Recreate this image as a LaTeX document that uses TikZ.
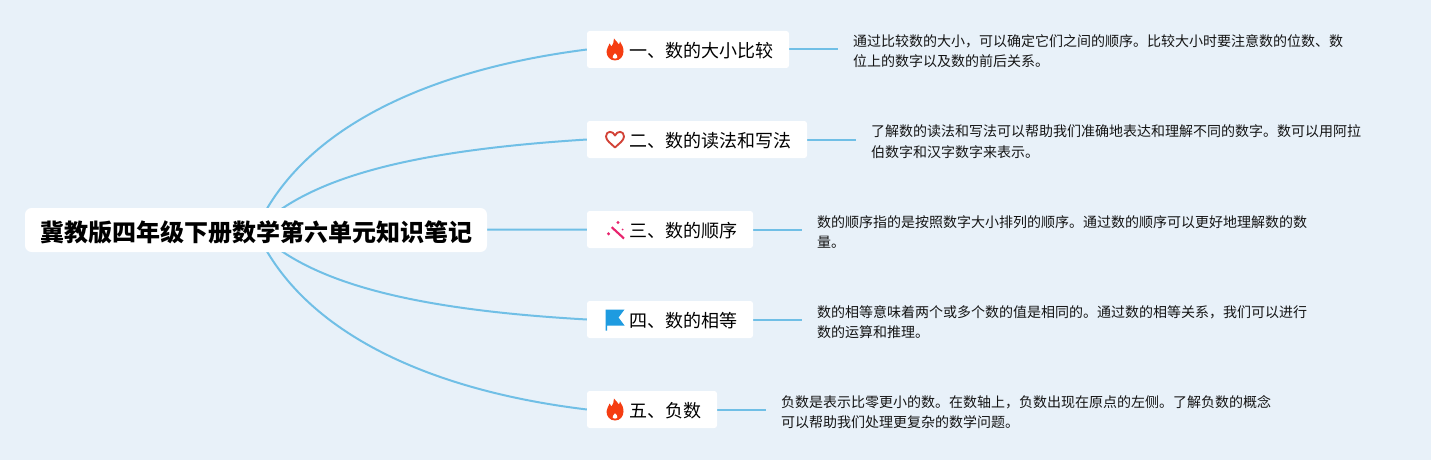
\documentclass[tikz,border=0pt]{standalone}
\usepackage{fontspec}
\setmainfont{Noto Sans CJK SC}
\usetikzlibrary{backgrounds}
\definecolor{mapback}{RGB}{232, 241, 249}
\definecolor{mapline}{RGB}{112, 191, 230}
\definecolor{firered}{RGB}{245, 61, 18}
\definecolor{heartred}{RGB}{210, 66, 55}
\definecolor{wandpink}{RGB}{232, 36, 110}
\definecolor{flagblue}{RGB}{30, 155, 224}
\tikzset{
  rootbox/.style={fill=white, rounded corners=5pt, inner xsep=11.25pt, inner ysep=0pt, outer sep=0pt, minimum height=33pt, text height=18pt, text depth=1.2pt, font=\fontsize{18}{22}\selectfont\bfseries},
  branchbox/.style={fill=white, rounded corners=2pt, anchor=west, inner xsep=11.25pt, inner ysep=0pt, outer sep=0pt, minimum height=27.75pt, text height=12.5pt, text depth=1pt, font=\fontsize{13.5}{16}\selectfont, execute at begin node=\hspace*{20.25pt}, execute at end node=\hspace*{0.75pt}},
  notebox/.style={anchor=west, align=left, inner xsep=11.25pt, inner ysep=0pt, outer sep=0pt, text=black!92, font=\fontsize{10.5}{15.5}\selectfont},
  link/.style={mapline, line width=1.5pt},
  fireicon/.pic={
    \fill[firered, even odd rule] (-1,-11) .. controls (1,-8) and (3,-7) .. (4,-5) .. controls (5,-6) and (5,-7) .. (5,-8) .. controls (7,-5) and (8.5,-2) .. (8.5,2) .. controls (8.5,7) and (5,11) .. (0,11) .. controls (-5,11) and (-8.5,7) .. (-8.5,2) .. controls (-8.5,-1) and (-6,-4) .. (-5.5,-6) .. controls (-5,-5) and (-4,-4) .. (-3.5,-3) .. controls (-2,-5) and (-1,-8) .. (-1,-11) -- cycle
      (0,3.5) .. controls (1.5,5) and (3,6.5) .. (2.5,8) .. controls (2,9.5) and (-2,9.5) .. (-2.5,8) .. controls (-3,6.5) and (-1,5) .. (0,3.5) -- cycle;
  },
  hearticon/.pic={
    \draw[heartred, line width=1.4pt, line join=round] (0,8) .. controls (-4,4) and (-9,1) .. (-9,-3) .. controls (-9,-9) and (-2,-9) .. (0,-4) .. controls (2,-9) and (9,-9) .. (9,-3) .. controls (9,1) and (4,4) .. (0,8) -- cycle;
  },
  wandicon/.pic={
    \draw[wandpink, line width=1.6pt] (-3.3,-2.3) -- (9,9);
    \fill[wandpink] (3,-7) circle (1.7) (-6.5,4.3) circle (1.7) (7.7,0) circle (1);
  },
  flagicon/.pic={
    \fill[flagblue] (-9.5,-10) -- (9.5,-10) -- (3.5,-2) -- (9.5,6) -- (-8,6) -- (-8,11) -- (-9.5,11) -- cycle;
  }
}
\begin{document}
\begin{tikzpicture}[x=0.75pt, y=-0.75pt]
\useasboundingbox (0,0) rectangle (1431,460);
\node[rootbox] (root) at (256,230) {冀教版四年级下册数学第六单元知识笔记};
\node[branchbox] (bone) at (587,49.5) {一、数的大小比较};
\node[branchbox] (btwo) at (587,139.5) {二、数的读法和写法};
\node[branchbox] (bthree) at (587,229.5) {三、数的顺序};
\node[branchbox] (bfour) at (587,319.5) {四、数的相等};
\node[branchbox] (bfive) at (587,409.5) {五、负数};
\node[notebox] (none) at (838,51) {通过比较数的大小，可以确定它们之间的顺序。比较大小时要注意数的位数、数\\位上的数字以及数的前后关系。};
\node[notebox] (ntwo) at (856,141.5) {了解数的读法和写法可以帮助我们准确地表达和理解不同的数字。数可以用阿拉\\伯数字和汉字数字来表示。};
\node[notebox] (nthree) at (802,232) {数的顺序指的是按照数字大小排列的顺序。通过数的顺序可以更好地理解数的数\\量。};
\node[notebox] (nfour) at (802,322) {数的相等意味着两个或多个数的值是相同的。通过数的相等关系，我们可以进行\\数的运算和推理。};
\node[notebox] (nfive) at (766,412) {负数是表示比零更小的数。在数轴上，负数出现在原点的左侧。了解负数的概念\\可以帮助我们处理更复杂的数学问题。};
\pic at ([xshift=21pt]bone.west) {fireicon};
\pic at ([xshift=21pt]btwo.west) {hearticon};
\pic at ([xshift=21pt]bthree.west) {wandicon};
\pic at ([xshift=21pt]bfour.west) {flagicon};
\pic at ([xshift=21pt]bfive.west) {fireicon};
\begin{pgfonlayer}{background}
\fill[mapback] (0,0) rectangle (1431,460);
\draw[link] (root.center) .. controls (300,130) and (425,70) .. (bone.west);
\draw[link] (root.center) .. controls (310,175) and (420,150) .. (btwo.west);
\draw[link] (root.center) -- (bthree.west);
\draw[link] (root.center) .. controls (310,285) and (420,310) .. (bfour.west);
\draw[link] (root.center) .. controls (300,330) and (425,390) .. (bfive.west);
\draw[link] (bone.east) -- (bone.east -| none.west);
\draw[link] (btwo.east) -- (btwo.east -| ntwo.west);
\draw[link] (bthree.east) -- (bthree.east -| nthree.west);
\draw[link] (bfour.east) -- (bfour.east -| nfour.west);
\draw[link] (bfive.east) -- (bfive.east -| nfive.west);
\end{pgfonlayer}
\end{tikzpicture}
\end{document}
